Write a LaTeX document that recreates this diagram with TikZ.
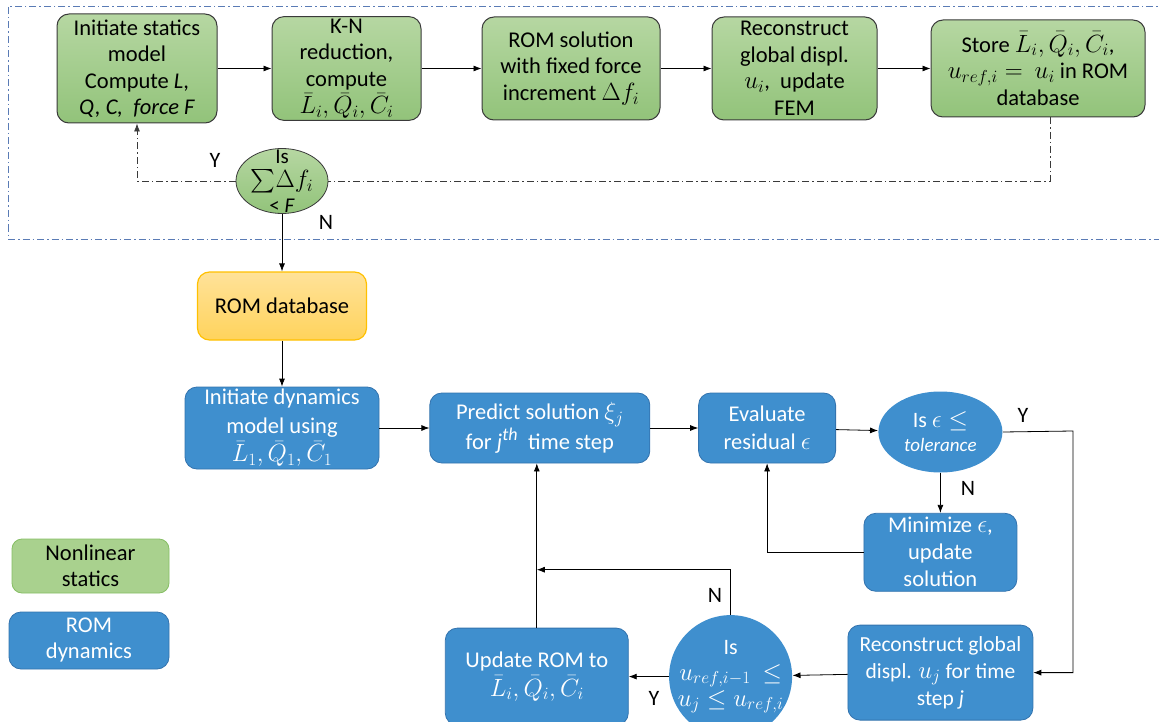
\documentclass[tikz,border=0pt]{standalone}
\usepackage{amsmath, amssymb}
\usepackage{fontspec}
\setmainfont{Carlito}
\usepackage{tikz}
\usetikzlibrary{positioning, arrows.meta, shapes.geometric}
\DeclareMathSizes{22.5}{24.5}{18}{14}
\DeclareMathSizes{22}{24}{17.5}{14}
\DeclareMathSizes{21.5}{24}{17.5}{14}
\DeclareMathSizes{21}{23.5}{17}{13}
\definecolor{greentop}{HTML}{B6D7A2}
\definecolor{greenbot}{HTML}{92C37A}
\definecolor{boxgray}{HTML}{3A3A3A}
\definecolor{dynblue}{HTML}{3F8FCE}
\definecolor{dynedge}{HTML}{3373AE}
\definecolor{dbtop}{HTML}{FFE299}
\definecolor{dbbot}{HTML}{FFD35C}
\definecolor{dbedge}{HTML}{FFC000}
\definecolor{keygreen}{HTML}{A9D18E}
\definecolor{keyedge}{HTML}{86BE64}
\definecolor{framecol}{HTML}{5A7BB5}
\tikzset{
    stat/.style={draw=boxgray, line width=1pt, rounded corners=12pt, top color=greentop, bottom color=greenbot,
        align=center, inner sep=2pt, font=\fontsize{22.5}{26.5}\selectfont},
    dyn/.style={draw=dynedge, line width=0.8pt, rounded corners=12pt, fill=dynblue, text=white,
        align=center, inner sep=2pt, font=\fontsize{22.5}{28.5}\selectfont},
    dec/.style={ellipse, inner sep=0pt, align=center, font=\fontsize{22}{26}\selectfont},
    dectext/.style={align=center, inner sep=0pt, font=\fontsize{21}{24.5}\selectfont},
    lbl/.style={font=\fontsize{22}{24}\selectfont, inner sep=0pt},
    dashdot/.style={draw=boxgray, line width=0.8pt, dash pattern=on 7pt off 3pt on 1.5pt off 3pt},
    frame/.style={draw=framecol, line width=1pt, dash pattern=on 7pt off 3pt on 1.5pt off 3pt}
}

\begin{document}
\begin{tikzpicture}[x=1pt, y=-1pt, >={Latex[length=8pt,width=6pt]}, line width=0.8pt]
    \useasboundingbox (0,0) rectangle (1159,722);
    \draw[frame] (8,7) rectangle (1175,239);

    % nonlinear statics
    \node [stat, minimum width=160pt, minimum height=109pt] (init) at (137,68.5)
        {Initiate statics\\model\\Compute \textit{L},\\\textit{Q, C,\ \ force F}};
    \node [stat, right=54pt of init, minimum width=149pt, minimum height=102pt] (kn)
        {K-N\\reduction,\\compute\\[1pt]$\bar{L}_i,\bar{Q}_i,\bar{C}_i$};
    \node [stat, right=60pt of kn, minimum width=178pt, minimum height=103pt] (romsol)
        {ROM solution\\with fixed force\\increment $\Delta f_i$};
    \node [stat, right=51pt of romsol, minimum width=165pt, minimum height=103pt] (recglob)
        {Reconstruct\\global displ.\\$u_i$,\ \ update\\FEM};
    \node [stat, right=53pt of recglob, minimum width=214pt, minimum height=97pt] (store)
        {Store $\bar{L}_i,\bar{Q}_i,\bar{C}_i$,\\$u_{ref,i} =\ u_i$ in ROM\\database};
    \node [dec, draw=boxgray, top color=greentop, bottom color=greenbot, minimum width=92pt, minimum height=65pt,
        label={[dectext]center:Is\\$\sum\!\Delta f_i$\\< \textit{F}}] (sumf) at (282,181) {};

    % ROM database
    \node [draw=dbedge, line width=1.2pt, rounded corners=12pt, top color=dbtop, bottom color=dbbot,
        font=\fontsize{22.5}{26}\selectfont, minimum width=169pt, minimum height=68pt, below=57.5pt of sumf] (romdb) {ROM database};

    % ROM dynamics
    \node [dyn, below=46pt of romdb, minimum width=194pt, minimum height=82pt] (initdyn)
        {Initiate dynamics\\model using\\$\bar{L}_1,\bar{Q}_1,\bar{C}_1$};
    \node [dyn, right=50pt of initdyn, minimum width=220pt, minimum height=70pt] (pred)
        {Predict solution $\xi_j$\\for \textit{j\textsuperscript{th}}\ \ time step};
    \node [dyn, right=48pt of pred, minimum width=137pt, minimum height=70pt] (evalres)
        {Evaluate\\residual $\epsilon$};
    \node [dec, fill=dynblue, text=white, right=42pt of evalres, minimum width=124pt, minimum height=81pt, yshift=-4pt] (tol)
        {Is $\epsilon \le$\\[-2pt]{\fontsize{19}{20}\selectfont$\mathit{tolerance}$}};
    \node [dyn, below=40pt of tol, minimum width=153pt, minimum height=78pt, font=\fontsize{22.5}{27}\selectfont] (minim)
        {Minimize $\epsilon$,\\update\\solution};
    \node [dyn, below=33pt of minim, minimum width=185pt, minimum height=95pt, font=\fontsize{21.5}{27}\selectfont] (recon)
        {Reconstruct global\\displ. $u_j$ for time\\step \textit{j}};
    \node [dec, circle, fill=dynblue, text=white, left=55pt of recon, minimum size=123pt, inner sep=-4pt, yshift=-4pt] (chk)
        {Is\\$u_{ref,i-1}\ \le$\\$u_j \le u_{ref,i}$};
    \node [dyn, left=40pt of chk, minimum width=183pt, minimum height=97pt] (upd)
        {Update ROM to\\$\bar{L}_i,\bar{Q}_i,\bar{C}_i$};

    % legend
    \node [draw=keyedge, fill=keygreen, rounded corners=10pt, align=center, font=\fontsize{22.5}{26}\selectfont,
        minimum width=157pt, minimum height=54pt, inner sep=1pt] (keystat) at (90.5,566) {Nonlinear\\statics};
    \node [dyn, minimum width=160pt, minimum height=57pt, inner sep=1pt, font=\fontsize{22.5}{26}\selectfont] (keydyn)
        at (89,640.5) {ROM\\dynamics};

    % connectors
    \draw[->] (init) -- (kn);
    \draw[->] (kn) -- (romsol);
    \draw[->] (romsol) -- (recglob);
    \draw[->] (recglob) -- (store);
    \draw[dashdot] ([xshift=12pt]store.south) |- (sumf);
    \draw[dashdot, ->] (sumf) -| (init);
    \draw[->] (sumf) -- (romdb);
    \draw[->] (romdb) -- (initdyn);
    \draw[->] (initdyn) -- (pred);
    \draw[->] (pred) -- (evalres);
    \draw[->] (evalres) -- (tol);
    \coordinate (yturn) at (1073,431);
    \draw[->] (tol.east) -- (yturn) |- (recon);
    \draw[->] (tol) -- (minim);
    \draw[->] (minim) -| (evalres);
    \draw[->] (recon) -- (chk);
    \draw[->] (chk) -- (upd);
    \path (upd.north) ++(0,-58) coordinate (nturn);
    \draw[->] (chk) |- (nturn);
    \draw[->] (upd.north) -- (upd.north |- pred.south);

    % Y / N labels
    \node [lbl] (ysum) at (215,160) {Y};
    \node [lbl] (nsum) at (326,222) {N};
    \node [lbl] (ytol) at (1023,415) {Y};
    \node [lbl] (ntol) at (968,488) {N};
    \node [lbl] (nchk) at (715,595) {N};
    \node [lbl] (ychk) at (654,698) {Y};
\end{tikzpicture}
\end{document}
